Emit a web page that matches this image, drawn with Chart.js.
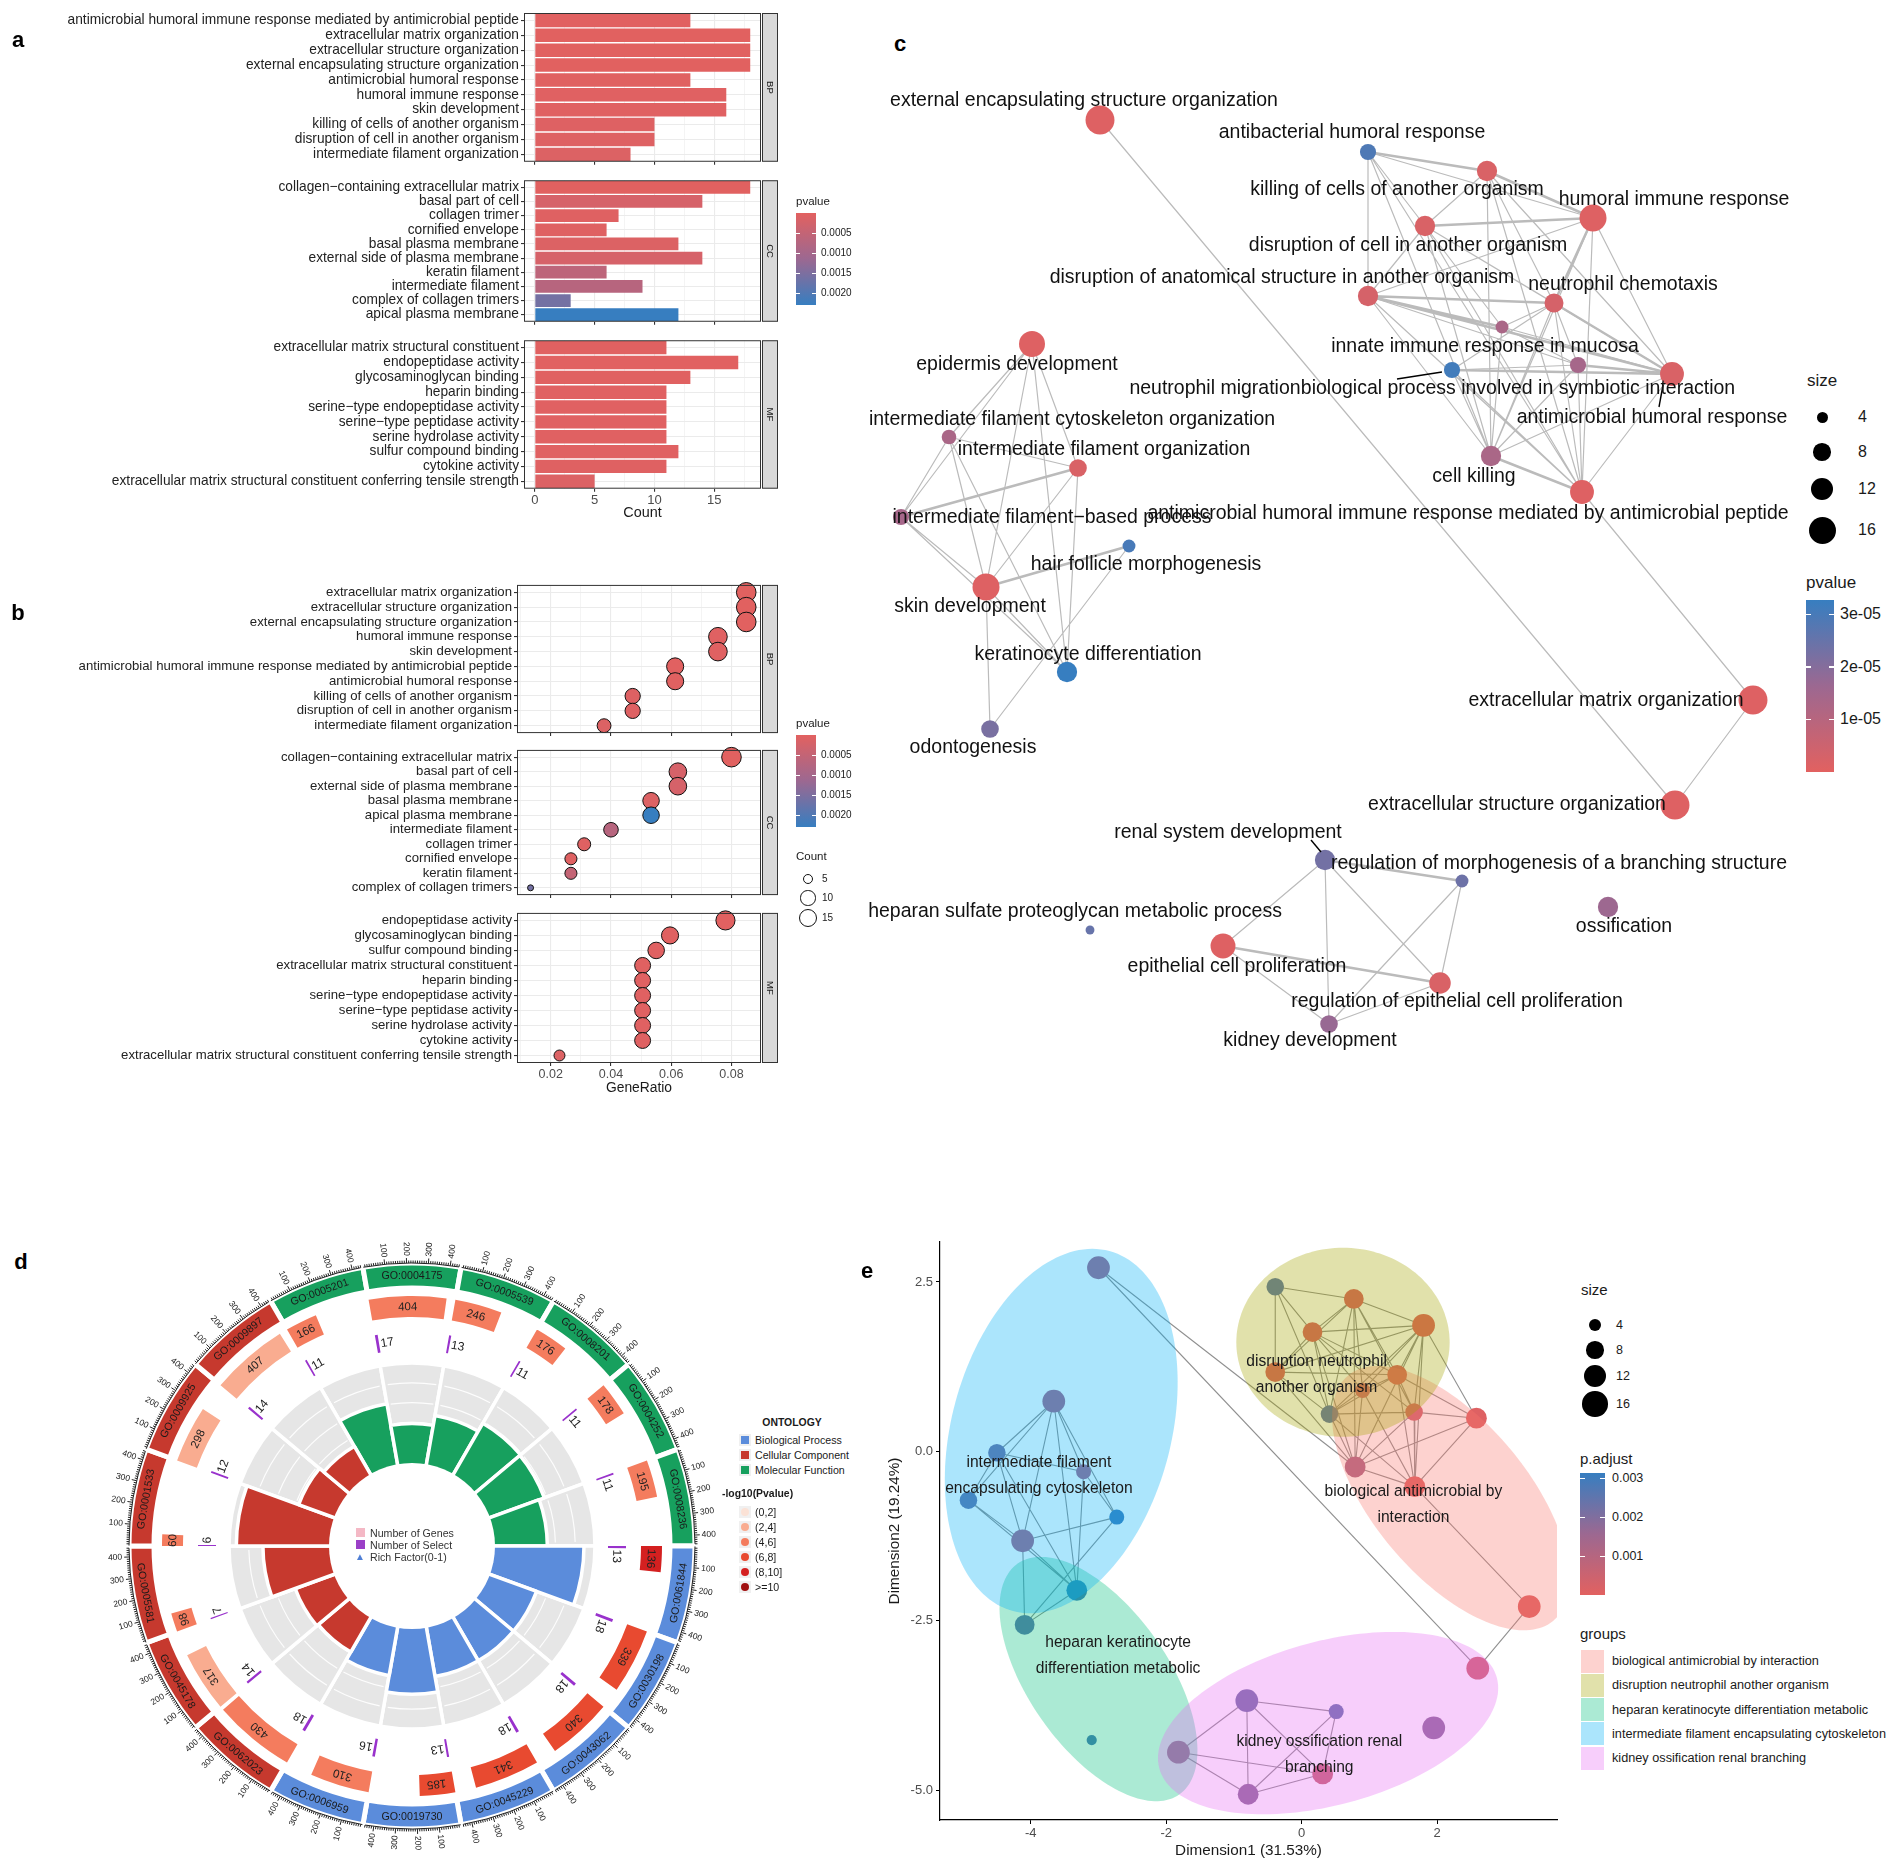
<!DOCTYPE html>
<html><head><meta charset="utf-8">
<script src="https://cdn.jsdelivr.net/npm/chart.js@4.4.1/dist/chart.umd.min.js"></script>
<style>
html,body{margin:0;padding:0;background:#fff}
body{width:1902px;height:1871px;position:relative;overflow:hidden}
canvas{position:absolute}
.t{position:absolute;white-space:nowrap;color:#1a1a1a;font-family:"Liberation Sans",Arial,sans-serif;line-height:1}
.b{position:absolute}
</style></head><body>
<script>
// ================= DATA =================
// ---- Panel a (bar, Count) ----
const aBPTerms = ['antimicrobial humoral immune response mediated by antimicrobial peptide','extracellular matrix organization','extracellular structure organization','external encapsulating structure organization','antimicrobial humoral response','humoral immune response','skin development','killing of cells of another organism','disruption of cell in another organism','intermediate filament organization'];
const aBPCount = [13,18,18,18,13,16,16,10,10,8];
const aBPPval  = [0.00002,0.00001,0.00001,0.00001,0.00003,0.00004,0.00004,0.00006,0.00006,0.0001];
const aCCTerms = ['collagen−containing extracellular matrix','basal part of cell','collagen trimer','cornified envelope','basal plasma membrane','external side of plasma membrane','keratin filament','intermediate filament','complex of collagen trimers','apical plasma membrane'];
const aCCCount = [18,14,7,6,12,14,6,9,3,12];
const aCCPval  = [0.00001,0.0002,0.00005,0.00005,0.0001,0.0002,0.0006,0.0007,0.0016,0.0023];
const aMFTerms = ['extracellular matrix structural constituent','endopeptidase activity','glycosaminoglycan binding','heparin binding','serine−type endopeptidase activity','serine−type peptidase activity','serine hydrolase activity','sulfur compound binding','cytokine activity','extracellular matrix structural constituent conferring tensile strength'];
const aMFCount = [11,17,13,11,11,11,11,12,11,5];
const aMFPval  = [0.00003,0.00002,0.00003,0.00004,0.00004,0.00004,0.00004,0.00004,0.00005,0.0001];
const aXTicks = [0,2.5,5,7.5,10,12.5,15,17.5];
// ---- Panel b (dot, GeneRatio) ----
const bBPTerms = ['extracellular matrix organization','extracellular structure organization','external encapsulating structure organization','humoral immune response','skin development','antimicrobial humoral immune response mediated by antimicrobial peptide','antimicrobial humoral response','killing of cells of another organism','disruption of cell in another organism','intermediate filament organization'];
const bBPRatio = [0.0849,0.0849,0.0849,0.0755,0.0755,0.0613,0.0613,0.0472,0.0472,0.0377];
const bBPCount = [18,18,18,16,16,13,13,10,10,8];
const bBPPval  = [0.00001,0.00001,0.00001,0.00004,0.00004,0.00002,0.00003,0.00006,0.00006,0.0001];
const bCCTerms = ['collagen−containing extracellular matrix','basal part of cell','external side of plasma membrane','basal plasma membrane','apical plasma membrane','intermediate filament','collagen trimer','cornified envelope','keratin filament','complex of collagen trimers'];
const bCCRatio = [0.0800,0.0622,0.0622,0.0533,0.0533,0.0400,0.0311,0.0267,0.0267,0.0133];
const bCCCount = [18,14,14,12,12,9,7,6,6,3];
const bCCPval  = [0.00001,0.0002,0.0002,0.0001,0.0023,0.0007,0.00005,0.00005,0.0005,0.0016];
const bMFTerms = ['endopeptidase activity','glycosaminoglycan binding','sulfur compound binding','extracellular matrix structural constituent','heparin binding','serine−type endopeptidase activity','serine−type peptidase activity','serine hydrolase activity','cytokine activity','extracellular matrix structural constituent conferring tensile strength'];
const bMFRatio = [0.0780,0.0596,0.0550,0.0505,0.0505,0.0505,0.0505,0.0505,0.0505,0.0229];
const bMFCount = [17,13,12,11,11,11,11,11,11,5];
const bMFPval  = [0.00002,0.00003,0.00004,0.00003,0.00004,0.00004,0.00004,0.00004,0.00005,0.0001];
const bXTicks = [0.01,0.02,0.03,0.04,0.05,0.06,0.07,0.08];
// ---- Panel c (enrichment map) ----
const cNames = ['external encapsulating structure organization','antibacterial humoral response','killing of cells of another organism','humoral immune response','disruption of cell in another organism','disruption of anatomical structure in another organism','neutrophil chemotaxis','innate immune response in mucosa','neutrophil migration','biological process involved in symbiotic interaction','antimicrobial humoral response','cell killing','antimicrobial humoral immune response mediated by antimicrobial peptide','epidermis development','intermediate filament cytoskeleton organization','intermediate filament organization','intermediate filament−based process','hair follicle morphogenesis','skin development','keratinocyte differentiation','odontogenesis','extracellular matrix organization','extracellular structure organization','renal system development','regulation of morphogenesis of a branching structure','heparan sulfate proteoglycan metabolic process','ossification','epithelial cell proliferation','regulation of epithelial cell proliferation','kidney development'];
const cX = [2.50,5.18,6.37,7.43,5.75,5.18,7.04,6.52,6.02,7.28,8.22,6.41,7.32,1.82,0.99,2.28,0.51,2.79,1.36,2.17,1.40,9.03,8.25,4.75,6.12,2.40,7.58,3.73,5.90,4.79];
const cY = [9.60,9.28,9.09,8.62,8.54,7.84,7.77,7.53,7.10,7.15,7.06,6.24,5.88,7.36,6.43,6.12,5.63,5.34,4.93,4.08,3.51,3.80,2.75,2.20,1.99,1.50,1.73,1.34,0.97,0.56];
const cCount = [18,7,10,16,10,10,9,5,7,7,13,10,13,15,6,8,7,5,16,10,8,18,18,10,5,3,10,14,11,8];
const cPval = [0.1e-5,2.9e-5,0.2e-5,0.1e-5,0.2e-5,0.3e-5,0.3e-5,1.3e-5,3.1e-5,1.4e-5,0.2e-5,1.3e-5,0.1e-5,0.1e-5,1.3e-5,0.2e-5,1.4e-5,3.0e-5,0.1e-5,3.3e-5,2.2e-5,0.1e-5,0.1e-5,2.3e-5,2.4e-5,2.5e-5,1.6e-5,0.1e-5,0.2e-5,1.7e-5];
const cEdges = [[0,22,1],[12,21,1],[21,22,1],
[1,2,2],[1,3,1],[1,4,1],[1,5,1],[1,11,1],[1,12,1],
[2,3,2],[2,4,1],[2,6,1],[2,10,1],[2,11,1],[2,12,1],
[3,4,2],[3,5,1],[3,6,2],[3,10,1],[3,11,1],[3,12,1],
[4,5,1],[4,6,1],[4,7,1],[4,10,1],[4,11,1],[4,12,1],
[5,6,2],[5,7,2],[5,9,1],[5,10,2],[5,11,1],[5,12,1],
[6,7,1],[6,8,1],[6,9,1],[6,10,2],[6,11,1],[6,12,1],
[7,9,1],[7,10,1],[7,11,1],[8,9,1],[8,10,2],[8,11,1],[8,12,1],
[9,10,2],[9,11,1],[9,12,1],[10,11,1],[10,12,1],[11,12,2],
[13,14,1],[13,15,1],[13,16,1],[13,18,1],[13,19,1],[14,15,1],[14,16,1],[14,18,1],[14,19,1],
[15,16,2],[15,18,1],[15,19,1],[16,18,1],[16,19,1],[17,18,2],[17,20,1],[18,19,1],[18,20,1],
[23,24,2],[23,27,1],[23,28,1],[23,29,1],[24,28,1],[24,29,1],[27,28,2],[27,29,1],[28,29,1]];
// ---- Panel d (GO circle) ----
const dIds = ['GO:0005201','GO:0004175','GO:0005539','GO:0008201','GO:0004252','GO:0008236','GO:0061844','GO:0030198','GO:0043062','GO:0045229','GO:0019730','GO:0006959','GO:0062023','GO:0045178','GO:0005581','GO:0001533','GO:0009925','GO:0009897'];
const dOnt = ['MF','MF','MF','MF','MF','MF','BP','BP','BP','BP','BP','BP','CC','CC','CC','CC','CC','CC'];
const dGenes = [166,404,246,176,178,195,136,339,340,341,185,310,430,317,98,60,298,407];
const dSelect = [11,17,13,11,11,11,13,18,18,18,13,16,18,14,7,6,12,14];
const dRich = [0.066,0.042,0.053,0.063,0.062,0.056,0.096,0.053,0.053,0.053,0.070,0.052,0.042,0.044,0.071,0.100,0.040,0.034];
const dNegLogP = [4.6,5.3,5.0,4.7,4.7,4.5,9.1,6.8,6.8,6.8,6.2,5.4,4.9,3.9,4.1,4.3,3.6,3.2];
const dBins = ['(0,2]','(2,4]','(4,6]','(6,8]','(8,10]','>=10'];
// ---- Panel e (MDS plot) ----
const eX = [-3.00,-3.66,-4.50,-3.22,-4.92,-2.73,-4.12,-3.32,-4.09,-3.10,-1.82,-0.81,0.51,1.95,-0.79,0.31,2.60,3.36,2.58,0.79,1.67,-0.39,0.77,0.16,1.80,-0.39,1.41,0.90,0.41,1.66];
const eY = [2.71,0.74,-0.02,-0.30,-0.72,-0.97,-1.32,-2.05,-2.56,-4.26,-4.44,-3.68,-3.84,-4.08,-5.06,-4.76,-3.20,-2.29,0.49,-0.23,-0.52,2.43,2.25,1.76,1.86,1.17,1.13,0.90,0.55,0.58];
const eSize = [13,13,8,6,8,6,13,11,10,3,13,13,6,13,11,11,13,13,11,11,11,8,10,10,13,10,10,6,8,8];
const ePadj = [0.0014,0.0014,0.0022,0.0014,0.0024,0.003,0.0014,0.003,0.0025,0.0028,0.0014,0.0022,0.0024,0.0018,0.0018,0.0006,0.0004,0.0001,0.0001,0.0012,0.0001,0.0026,0.0002,0.0002,0.0001,0.0002,0.0002,0.0006,0.0025,0.0004];
const eEdges = [[0,19],[0,16],[16,17],[17,20],[18,20],
[1,2],[1,3],[1,4],[1,5],[1,6],[1,7],[2,4],[2,3],[2,7],[2,6],[4,6],[4,7],[6,5],[6,8],[6,7],[3,7],[3,5],[7,8],[5,8],
[10,11],[10,14],[10,15],[11,12],[11,14],[11,15],[12,14],[14,15],[12,15],
[21,22],[21,23],[21,25],[21,28],[22,23],[22,24],[22,25],[22,26],[22,27],[22,28],[22,19],[22,29],[23,24],[23,25],[23,26],[23,27],[23,28],[23,19],[23,29],[24,25],[24,26],[24,27],[24,28],[24,29],[24,18],[24,19],[24,20],[25,26],[25,28],[25,19],[26,27],[26,28],[26,29],[26,18],[26,20],[27,28],[27,19],[27,20],[28,29],[28,19],[28,20],[29,18],[29,20],[29,19],[18,19],[19,20]];
const eGroups = ['biological antimicrobial by interaction','disruption neutrophil another organism','heparan keratinocyte differentiation metabolic','intermediate filament encapsulating cytoskeleton','kidney ossification renal branching'];
const eEllCx = [2.20,0.61,-3.00,-3.55,0.39];
const eEllCy = [-0.69,1.61,-3.36,0.30,-4.01];
const eEllA = [2.36,1.575,2.08,2.75,2.58];
const eEllB = [1.14,1.395,1.03,1.62,1.21];
const eEllAng = [-50,0,-55,75,15];
const eLabLines = [['biological antimicrobial by','interaction'],['disruption neutrophil','another organism'],['heparan keratinocyte','differentiation metabolic'],['intermediate filament','encapsulating cytoskeleton'],['kidney ossification renal','branching']];
const eLabX = [1.65,0.22,-2.71,-3.88,0.26];
const eLabY = [-0.59,1.32,-2.82,-0.17,-4.29];
const eXTicks = [-4,-2,0,2];
const eYTicks = [-5,-2.5,0,2.5];

// ================= STYLE / HELPERS =================
const mctx = document.createElement('canvas').getContext('2d');
function tw(font,text){mctx.font=font;return mctx.measureText(text).width;}
const probe='abcdefghij klmnopqrs';
const narrowOK = Math.abs(tw('100px "Liberation Sans Narrow", monospace',probe)-tw('100px monospace',probe))>1;
const SF = '"Liberation Sans", Arial, sans-serif';
const NF = narrowOK ? '"Liberation Sans Narrow", "Liberation Sans", sans-serif' : SF;
function sizeFor(fam,text,target){return 100*target/tw('100px '+fam,text);}
const LONG='antimicrobial humoral immune response mediated by antimicrobial peptide';
const aFont = sizeFor(NF,LONG,452);
const bFont = sizeFor(NF,LONG,434);
const cFont = sizeFor(NF,'external encapsulating structure organization',388);
Chart.defaults.font.family = SF;

const G_LOW=[226,97,96], G_MID=[156,104,145], G_HIGH=[55,126,192];
function gradCol(t){t=Math.max(0,Math.min(1,t));let A,B,u;if(t<0.5){A=G_LOW;B=G_MID;u=t/0.5;}else{A=G_MID;B=G_HIGH;u=(t-0.5)/0.5;}return 'rgb('+[0,1,2].map(k=>Math.round(A[k]+(B[k]-A[k])*u)).join(',')+')';}
function hexA(h,a){const n=parseInt(h.slice(1),16);return `rgba(${n>>16&255},${n>>8&255},${n&255},${a})`;}
function mixWhite(h,a){const n=parseInt(h.slice(1),16);const c=[n>>16&255,n>>8&255,n&255].map(v=>Math.round(255-(255-v)*a));return `rgb(${c})`;}

const mk=(x,y,w,h)=>{const c=document.createElement('canvas');c.width=w;c.height=h;c.style.left=x+'px';c.style.top=y+'px';document.body.appendChild(c);return c;};
const BASE={responsive:false,animation:false,events:[],devicePixelRatio:1};
function put(text,x,y,o={}){const d=document.createElement('div');d.className='t';d.textContent=text;d.style.left=x+'px';d.style.top=y+'px';d.style.fontSize=(o.size||12)+'px';if(o.family)d.style.fontFamily=o.family;if(o.bold)d.style.fontWeight='bold';if(o.color)d.style.color=o.color;const ax=o.align==='center'?'-50%':o.align==='right'?'-100%':'0';d.style.transform=`translate(${ax},-50%)`;document.body.appendChild(d);return d;}
function box(x,y,w,h,st){const d=document.createElement('div');d.className='b';d.style.left=x+'px';d.style.top=y+'px';d.style.width=w+'px';d.style.height=h+'px';Object.assign(d.style,st||{});document.body.appendChild(d);return d;}

// ================= PANELS a & b (facets) =================
const facetPlugin={id:'facet',afterDraw(chart,args,opts){
  const {ctx,chartArea:ca}=chart;ctx.save();
  ctx.fillStyle='#D9D9D9';ctx.fillRect(ca.right+1,ca.top,16,ca.bottom-ca.top);
  ctx.strokeStyle='#333';ctx.lineWidth=1;
  ctx.strokeRect(ca.right+1.5,ca.top+0.5,15,ca.bottom-ca.top-1);
  ctx.strokeRect(ca.left+0.5,ca.top+0.5,ca.right-ca.left-1,ca.bottom-ca.top-1);
  ctx.translate(ca.right+9,(ca.top+ca.bottom)/2);ctx.rotate(Math.PI/2);
  ctx.fillStyle='#1a1a1a';ctx.font=`9.5px ${SF}`;ctx.textAlign='center';ctx.textBaseline='middle';
  ctx.fillText(opts.label,0,0);ctx.restore();}};

function facet(c){
  const W=800,xH=c.showX?33:0;const cv=mk(0,c.top,W,c.h);
  const padTop=c.areaTop-c.top,padBottom=c.top+c.h-c.areaBottom-xH;
  const isMajor=v=>Math.abs(v/c.major-Math.round(v/c.major))<1e-6;
  const xs={type:'linear',min:c.xmin,max:c.xmax,
    afterBuildTicks:s=>{s.ticks=c.xticks.map(v=>({value:v}));},
    afterFit:s=>{s.height=xH;},border:{display:false},
    grid:{color:'#EBEBEB',lineWidth:k=>(k.tick&&isMajor(k.tick.value))?1.1:0.55,drawTicks:c.showX,tickLength:3,tickColor:k=>(k.tick&&isMajor(k.tick.value))?'#333':'rgba(0,0,0,0)'},
    ticks:{display:c.showX,autoSkip:false,maxRotation:0,padding:1,color:'#4D4D4D',font:{family:NF,size:c.font*0.95},callback:v=>isMajor(v)?c.fmt(v):''},
    title:{display:c.showX,text:c.xTitle||'',color:'#1a1a1a',font:{family:NF,size:c.font*1.05},padding:0}};
  const ys={type:'category',labels:c.labels,offset:true,afterFit:s=>{s.width=c.L;},border:{display:false},
    grid:{offset:false,color:'#EBEBEB',lineWidth:1.1,tickLength:3,tickColor:'#333'},
    ticks:{autoSkip:false,color:'#222',font:{family:NF,size:c.font},padding:2}};
  let type,datasets;
  if(c.kind==='bar'){type='bar';datasets=[{data:c.values,backgroundColor:c.colors,barPercentage:0.9,categoryPercentage:1,borderWidth:0}];}
  else{type='scatter';datasets=[{data:c.values.map((v,i)=>({x:v,y:c.labels[i]})),pointRadius:c.radii,pointBackgroundColor:c.colors,pointBorderColor:'#111',pointBorderWidth:1,showLine:false}];}
  return new Chart(cv,{type,data:{labels:c.labels,datasets},options:Object.assign({},BASE,{indexAxis:c.kind==='bar'?'y':'x',
    layout:{autoPadding:false,padding:{top:padTop,bottom:padBottom,left:0,right:W-c.R}},
    plugins:{legend:{display:false},tooltip:{enabled:false},facet:{label:c.strip}},scales:{x:xs,y:ys}}),plugins:[facetPlugin]});
}
const P_AB_MAX=0.0023;
const pc=v=>gradCol(v/P_AB_MAX);
const bRad=n=>3+6.8*Math.sqrt((n-3)/15);
const aCommon={kind:'bar',L:524,R:761,xmin:-0.9,xmax:18.9,xticks:aXTicks,major:5,fmt:v=>String(v),font:aFont};
facet(Object.assign({},aCommon,{top:0,h:172,areaTop:13,areaBottom:166,labels:aBPTerms,values:aBPCount,colors:aBPPval.map(pc),strip:'BP'}));
facet(Object.assign({},aCommon,{top:170,h:162,areaTop:173.7,areaBottom:326.7,labels:aCCTerms,values:aCCCount,colors:aCCPval.map(pc),strip:'CC'}));
facet(Object.assign({},aCommon,{top:330,h:200,areaTop:335.7,areaBottom:488.7,labels:aMFTerms,values:aMFCount,colors:aMFPval.map(pc),strip:'MF',showX:true,xTitle:'Count'}));
const bCommon={kind:'dot',L:517,R:761,xmin:0.0088,xmax:0.0898,xticks:bXTicks,major:0.02,fmt:v=>v.toFixed(2),font:bFont};
facet(Object.assign({},bCommon,{top:575,h:168,areaTop:584.3,areaBottom:737.8,labels:bBPTerms,values:bBPRatio,radii:bBPCount.map(bRad),colors:bBPPval.map(pc),strip:'BP'}));
facet(Object.assign({},bCommon,{top:740,h:165,areaTop:746.8,areaBottom:900.5,labels:bCCTerms,values:bCCRatio,radii:bCCCount.map(bRad),colors:bCCPval.map(pc),strip:'CC'}));
facet(Object.assign({},bCommon,{top:903,h:200,areaTop:909.3,areaBottom:1063,labels:bMFTerms,values:bMFRatio,radii:bMFCount.map(bRad),colors:bMFPval.map(pc),strip:'MF',showX:true,xTitle:'GeneRatio'}));

// legends a / b
function abColorbar(y0){
  const h=92,x=796,w=20;
  put('pvalue',x,y0-11,{size:11.5});
  box(x,y0,w,h,{background:`linear-gradient(to bottom, rgb(${G_LOW}), rgb(${G_MID}), rgb(${G_HIGH}))`});
  [0.0005,0.0010,0.0015,0.0020].forEach(v=>{const y=y0+v/P_AB_MAX*h;box(x,y-0.5,4,1,{background:'#fff'});box(x+w-4,y-0.5,4,1,{background:'#fff'});put(v.toFixed(4),x+w+5,y,{size:10});});
}
abColorbar(213); abColorbar(735);
put('Count',796,857,{size:11.5});
[5,10,15].forEach((n,i)=>{const r=bRad(n),y=[879,898,918][i];box(808-r,y-r,2*r-2,2*r-2,{border:'1px solid #111',borderRadius:'50%',background:'#fff'});put(String(n),822,y,{size:10});});

// ================= PANEL c =================
const cRad=s=>-2.5+4*Math.sqrt(s);
const C_PMAX=3.27e-5;
const cLabDX=[-16,-16,-90,81,-17,-86,69,-17,-237,-60,-20,-17,-114,-15,123,26,151,17,-16,21,-17,-147,-158,-97,97,-15,16,14,17,-19];
const cLabDY=[-19,-19,19,-18,20,-18,-18,20,19,24,44,21,22,21,-17,-18,1,19,20,-17,19,1,0,-27,-17,-18,20,21,19,17];
const cLeaders=[[8,-10,2,-55,9],[10,-9,11,-13,33],[23,-4,-8,-14,-20]];
function edgePts(w){const a=[];cEdges.forEach(([i,j,ww])=>{if(ww===w){a.push({x:cX[i],y:cY[i]},{x:cX[j],y:cY[j]},{x:null,y:null});}});return a;}
const cLabelPlugin={id:'cLabels',afterDatasetsDraw(chart){
  const ctx=chart.ctx,pts=chart.getDatasetMeta(0).data;ctx.save();
  ctx.strokeStyle='#000';ctx.lineWidth=1.4;
  cLeaders.forEach(([i,x1,y1,x2,y2])=>{const p=pts[i];ctx.beginPath();ctx.moveTo(p.x+x1,p.y+y1);ctx.lineTo(p.x+x2,p.y+y2);ctx.stroke();});
  ctx.fillStyle='#111';ctx.font=`${cFont}px ${NF}`;ctx.textAlign='center';ctx.textBaseline='middle';
  cNames.forEach((n,i)=>{const p=pts[i];ctx.fillText(n,p.x+cLabDX[i],p.y+cLabDY[i]);});
  ctx.restore();}};
new Chart(mk(850,60,950,1020),{type:'scatter',data:{datasets:[
  {data:cX.map((x,i)=>({x,y:cY[i]})),pointRadius:cCount.map(cRad),pointBackgroundColor:cPval.map(v=>gradCol(v/C_PMAX)),pointBorderWidth:0,order:0},
  {data:edgePts(1),showLine:true,borderColor:'#BBBBBB',borderWidth:1.2,pointRadius:0,spanGaps:false,order:1},
  {data:edgePts(2),showLine:true,borderColor:'#BBBBBB',borderWidth:2.5,pointRadius:0,spanGaps:false,order:2}]},
  options:Object.assign({},BASE,{layout:{padding:0,autoPadding:false},plugins:{legend:{display:false},tooltip:{enabled:false}},
  scales:{x:{display:false,min:0,max:9.5},y:{display:false,min:0,max:10.2}}}),plugins:[cLabelPlugin]});
// c legends
put('size',1822,380,{size:17,align:'center'});
[4,8,12,16].forEach((s,i)=>{const r=cRad(s),y=[417,452,489,530][i];box(1822-r,y-r,2*r,2*r,{background:'#000',borderRadius:'50%'});put(String(s),1858,y,{size:16});});
put('pvalue',1806,582,{size:17});
(function(){const x=1806,y0=600,w=28,h=172;box(x,y0,w,h,{background:`linear-gradient(to top, rgb(${G_LOW}), rgb(${G_MID}), rgb(${G_HIGH}))`});
 [[1e-5,'1e-05'],[2e-5,'2e-05'],[3e-5,'3e-05']].forEach(([v,l])=>{const y=y0+h-v/C_PMAX*h;box(x,y-0.5,5,1.3,{background:'#fff'});box(x+w-5,y-0.5,5,1.3,{background:'#fff'});put(l,x+w+6,y,{size:16});});})();

// ================= PANEL d =================
const ONT_COL={BP:'#5B8CDB',CC:'#C6392E',MF:'#17A05E'};
const BIN_COL=['#FBE2D6','#F9AC90','#F47C5E','#E84A30','#D42020','#A01010'];
const binOf=v=>Math.max(0,Math.min(5,Math.floor((v-1e-9)/2)));
const D_UNIT=450, D_RICH_MAX=0.108;
const dR={bandOut:283,bandIn:258,geneOut:250,geneIn:229,selOut:214,selIn:196,gridOut:183,gridIn:84};
const dFontId=sizeFor(SF,'GO:0004175',61);
const dOuterPlugin={id:'dOuter',afterDatasetsDraw(chart){
  const ctx=chart.ctx,band=chart.getDatasetMeta(0).data,genes=chart.getDatasetMeta(2).data,sel=chart.getDatasetMeta(4).data;
  const cx=band[0].x,cy=band[0].y;ctx.save();
  band.forEach((arc,i)=>{
    const a0=arc.startAngle,a1=arc.endAngle,unit=(a1-a0)/D_UNIT,R=dR.bandOut;
    ctx.strokeStyle='#222';ctx.lineWidth=1;
    ctx.beginPath();ctx.arc(cx,cy,R,a0+2*unit,a0+440*unit);ctx.stroke();
    for(let v=10;v<=440;v+=10){const a=a0+v*unit,len=v%100===0?5:2.5;ctx.beginPath();ctx.moveTo(cx+R*Math.cos(a),cy+R*Math.sin(a));ctx.lineTo(cx+(R+len)*Math.cos(a),cy+(R+len)*Math.sin(a));ctx.stroke();}
    ctx.fillStyle='#222';ctx.font=`8.5px ${SF}`;ctx.textBaseline='middle';
    [100,200,300,400].forEach(v=>{const a=a0+v*unit;ctx.save();ctx.translate(cx,cy);
      if(Math.cos(a)>=0){ctx.rotate(a);ctx.textAlign='left';ctx.fillText(String(v),R+7,0);}else{ctx.rotate(a+Math.PI);ctx.textAlign='right';ctx.fillText(String(v),-(R+7),0);}
      ctx.restore();});
    const am=(a0+a1)/2,rm=(dR.bandOut+dR.bandIn)/2;
    ctx.save();ctx.translate(cx+rm*Math.cos(am),cy+rm*Math.sin(am));
    let rot=am+Math.PI/2;if(Math.sin(am)>0.001)rot+=Math.PI;ctx.rotate(rot);
    ctx.fillStyle='#1a1a1a';ctx.font=`${dFontId}px ${SF}`;ctx.textAlign='center';ctx.textBaseline='middle';ctx.fillText(dIds[i],0,0.5);ctx.restore();
    const g=genes[2*i],gm=(g.startAngle+g.endAngle)/2,gr=(g.innerRadius+g.outerRadius)/2;
    ctx.save();ctx.translate(cx+gr*Math.cos(gm),cy+gr*Math.sin(gm));ctx.rotate(gm+Math.PI/2);
    ctx.fillStyle='#222';ctx.font=`11.5px ${SF}`;ctx.textAlign='center';ctx.textBaseline='middle';ctx.fillText(String(dGenes[i]),0,0.5);ctx.restore();
    const s=sel[2*i],sr=(s.innerRadius+s.outerRadius)/2;
    ctx.save();ctx.translate(cx+sr*Math.cos(s.endAngle),cy+sr*Math.sin(s.endAngle));ctx.rotate(s.endAngle+Math.PI/2);
    ctx.fillStyle='#222';ctx.font=`12px ${SF}`;ctx.textAlign='left';ctx.textBaseline='middle';ctx.fillText(String(dSelect[i]),1.5,0.5);ctx.restore();
  });
  ctx.restore();}};
const genePairs=[],geneCols=[],selPairs=[],selCols=[];
dGenes.forEach((g,i)=>{genePairs.push(g,D_UNIT-g);geneCols.push(BIN_COL[binOf(dNegLogP[i])],'rgba(0,0,0,0)');selPairs.push(dSelect[i],D_UNIT-dSelect[i]);selCols.push('#9932CC','rgba(0,0,0,0)');});
const D_X=92,D_Y=1226,D_S=640;
new Chart(mk(D_X,D_Y,D_S,D_S),{type:'polarArea',data:{labels:dIds,datasets:[
  {data:dRich,backgroundColor:dOnt.map(o=>ONT_COL[o]),borderColor:'#fff',borderWidth:3.5},
  {data:dIds.map(()=>D_RICH_MAX),backgroundColor:'#E6E6E6',borderColor:'#fff',borderWidth:3.5}]},
  options:Object.assign({},BASE,{layout:{padding:0},plugins:{legend:{display:false},tooltip:{enabled:false}},
   scales:{r:{startAngle:-30,min:-D_RICH_MAX*dR.gridIn/(dR.gridOut-dR.gridIn),max:D_RICH_MAX+D_RICH_MAX*((D_S/2)-dR.gridOut)/(dR.gridOut-dR.gridIn),ticks:{display:false},grid:{display:false},angleLines:{display:false},pointLabels:{display:false}}}}),
  plugins:[{id:'dInner',afterDatasetsDraw(chart){const ctx=chart.ctx,sc=chart.scales.r,cx=sc.xCenter,cy=sc.yCenter,arcs=chart.getDatasetMeta(0).data;ctx.save();
    ctx.strokeStyle='rgba(255,255,255,0.9)';ctx.lineWidth=1.2;
    arcs.forEach((a,i)=>{for(let k=1;k<5;k++){const v=D_RICH_MAX*k/5;if(v<=dRich[i])continue;const r=sc.getDistanceFromCenterForValue(v);ctx.beginPath();ctx.arc(cx,cy,r,a.startAngle+0.025,a.endAngle-0.025);ctx.stroke();}});
    ctx.fillStyle='#fff';ctx.beginPath();ctx.arc(cx,cy,sc.getDistanceFromCenterForValue(0)-1,0,2*Math.PI);ctx.fill();ctx.restore();}}]});
new Chart(mk(D_X,D_Y,D_S,D_S),{type:'doughnut',data:{labels:genePairs.map((_,i)=>String(i)),datasets:[
  {data:dIds.map(()=>D_UNIT),backgroundColor:dOnt.map(o=>ONT_COL[o]),borderColor:'#fff',borderWidth:5,weight:dR.bandOut-dR.bandIn},
  {data:[1],backgroundColor:'rgba(0,0,0,0)',borderWidth:0,weight:dR.bandIn-dR.geneOut},
  {data:genePairs,backgroundColor:geneCols,borderWidth:0,weight:dR.geneOut-dR.geneIn},
  {data:[1],backgroundColor:'rgba(0,0,0,0)',borderWidth:0,weight:dR.geneIn-dR.selOut},
  {data:selPairs,backgroundColor:selCols,borderWidth:0,weight:dR.selOut-dR.selIn}]},
  options:Object.assign({},BASE,{rotation:-30,radius:dR.bandOut,cutout:(dR.selIn/dR.bandOut*100)+'%',layout:{padding:0},plugins:{legend:{display:false},tooltip:{enabled:false}}}),plugins:[dOuterPlugin]});
// d centre legend
const dLegF=sizeFor(SF,'Number of Genes',84);
box(356,1528,9,9,{background:'#F4B8C5'});put('Number of Genes',370,1533,{size:dLegF,color:'#333'});
box(356,1540,9,9,{background:'#9B3FC7'});put('Number of Select',370,1545,{size:dLegF,color:'#333'});
put('▲',355,1557,{size:10,color:'#4F7FD5'});put('Rich Factor(0-1)',370,1557,{size:dLegF,color:'#333'});
// d right legend
const dRLF=sizeFor(SF,'Cellular Component',94);
put('ONTOLOGY',792,1423,{size:dRLF*0.98,bold:true,align:'center'});
[['Biological Process','BP'],['Cellular Component','CC'],['Molecular Function','MF']].forEach(([t,k],i)=>{const y=1440+15*i;box(739,y-6,12,12,{background:'#F0F0F0'});box(741,y-4,8,8,{background:ONT_COL[k]});put(t,755,y,{size:dRLF});});
put('-log10(Pvalue)',722,1494,{size:dRLF*0.98,bold:true});
dBins.forEach((t,i)=>{const y=1512+15*i;box(739,y-6,12,12,{background:'#F0F0F0'});box(741,y-4,8,8,{background:BIN_COL[i],borderRadius:'50%'});put(t,755,y,{size:dRLF});});

// ================= PANEL e =================
const E_COLS=['#F8766D','#A3A500','#00BF7D','#00B0F6','#E76BF3'];
const E_PMAX=0.00313;
const eRad=s=>-0.7+3.35*Math.sqrt(s);
const eLabF=sizeFor(SF,'intermediate filament',145);
const eTitleF=sizeFor(SF,'Dimension1 (31.53%)',147);
const ePts=[];eEdges.forEach(([i,j])=>{ePts.push({x:eX[i],y:eY[i]},{x:eX[j],y:eY[j]},{x:null,y:null});});
const ePlugin={id:'eDecor',afterDatasetsDraw(chart){
  const {ctx,chartArea:ca,scales:{x,y}}=chart;ctx.save();ctx.beginPath();ctx.rect(ca.left,ca.top,ca.right-ca.left,ca.bottom-ca.top);ctx.clip();
  eGroups.forEach((g,k)=>{const A=eEllAng[k]*Math.PI/180,c=Math.cos(A),s=Math.sin(A);ctx.beginPath();
    for(let n=0;n<=160;n++){const t=n/160*2*Math.PI,dx=eEllA[k]*Math.cos(t),dy=eEllB[k]*Math.sin(t);const px=x.getPixelForValue(eEllCx[k]+dx*c-dy*s),py=y.getPixelForValue(eEllCy[k]+dx*s+dy*c);n?ctx.lineTo(px,py):ctx.moveTo(px,py);}
    ctx.closePath();ctx.fillStyle=hexA(E_COLS[k],0.33);ctx.fill();});
  ctx.restore();ctx.save();ctx.fillStyle='#1a1a1a';ctx.font=`${eLabF}px ${SF}`;ctx.textAlign='center';ctx.textBaseline='middle';
  eLabLines.forEach((ls,k)=>{ls.forEach((l,m)=>{ctx.fillText(l,x.getPixelForValue(eLabX[k]),y.getPixelForValue(eLabY[k])+m*26);});});
  ctx.restore();}};
new Chart(mk(860,1230,720,640),{type:'scatter',data:{datasets:[
  {data:eX.map((x,i)=>({x,y:eY[i]})),pointRadius:eSize.map(eRad),pointBackgroundColor:ePadj.map(v=>gradCol(v/E_PMAX)),pointBorderWidth:0,order:0},
  {data:ePts,showLine:true,borderColor:'rgba(125,125,125,0.85)',borderWidth:1.1,pointRadius:0,spanGaps:false,order:1}]},
  options:Object.assign({},BASE,{layout:{autoPadding:false,padding:{left:26,right:23,top:12,bottom:10}},plugins:{legend:{display:false},tooltip:{enabled:false}},
  scales:{
   x:{type:'linear',min:-5.34,max:3.77,afterBuildTicks:s=>{s.ticks=eXTicks.map(v=>({value:v}));},afterFit:s=>{s.height=40;},
      grid:{drawOnChartArea:false,drawTicks:true,tickLength:4,tickColor:'#000'},border:{display:true,color:'#000',width:1.2},
      ticks:{color:'#4D4D4D',font:{size:13},padding:2,callback:v=>String(v)},title:{display:true,text:'Dimension1 (31.53%)',color:'#1a1a1a',font:{size:eTitleF},padding:0}},
   y:{type:'linear',min:-5.44,max:3.09,afterBuildTicks:s=>{s.ticks=eYTicks.map(v=>({value:v}));},afterFit:s=>{s.width=54;},
      grid:{drawOnChartArea:false,drawTicks:true,tickLength:4,tickColor:'#000'},border:{display:true,color:'#000',width:1.2},
      ticks:{color:'#4D4D4D',font:{size:13},padding:3,callback:v=>v.toFixed(1)},title:{display:true,text:'Dimension2 (19.24%)',color:'#1a1a1a',font:{size:eTitleF},padding:0}}}}),
  plugins:[ePlugin]});
// e legends
const eLegF=sizeFor(SF,'biological antimicrobial by interaction',207);
put('size',1581,1289,{size:15});
[4,8,12,16].forEach((s,i)=>{const r=eRad(s),y=[1325,1350,1376,1404][i];box(1595-r,y-r,2*r,2*r,{background:'#000',borderRadius:'50%'});put(String(s),1616,y,{size:12.5});});
put('p.adjust',1580,1458,{size:15});
(function(){const x=1580,y0=1473,w=25,h=122;box(x,y0,w,h,{background:`linear-gradient(to top, rgb(${G_LOW}), rgb(${G_MID}), rgb(${G_HIGH}))`});
 [0.001,0.002,0.003].forEach(v=>{const y=y0+h-v/E_PMAX*h;box(x,y-0.5,5,1.3,{background:'#fff'});box(x+w-5,y-0.5,5,1.3,{background:'#fff'});put(v.toFixed(3),x+w+7,y,{size:12.5});});})();
put('groups',1580,1633,{size:15});
eGroups.forEach((g,i)=>{const y=1661+24.3*i;box(1581,y-11.5,23,23,{background:mixWhite(E_COLS[i],0.33)});put(g,1612,y,{size:eLegF});});

// ================= panel letters =================
[['a',18,40],['b',18,613],['c',900,44],['d',21,1262],['e',867,1271]].forEach(([t,x,y])=>put(t,x,y,{size:22,bold:true,align:'center',color:'#000'}));
</script>
</body></html>
